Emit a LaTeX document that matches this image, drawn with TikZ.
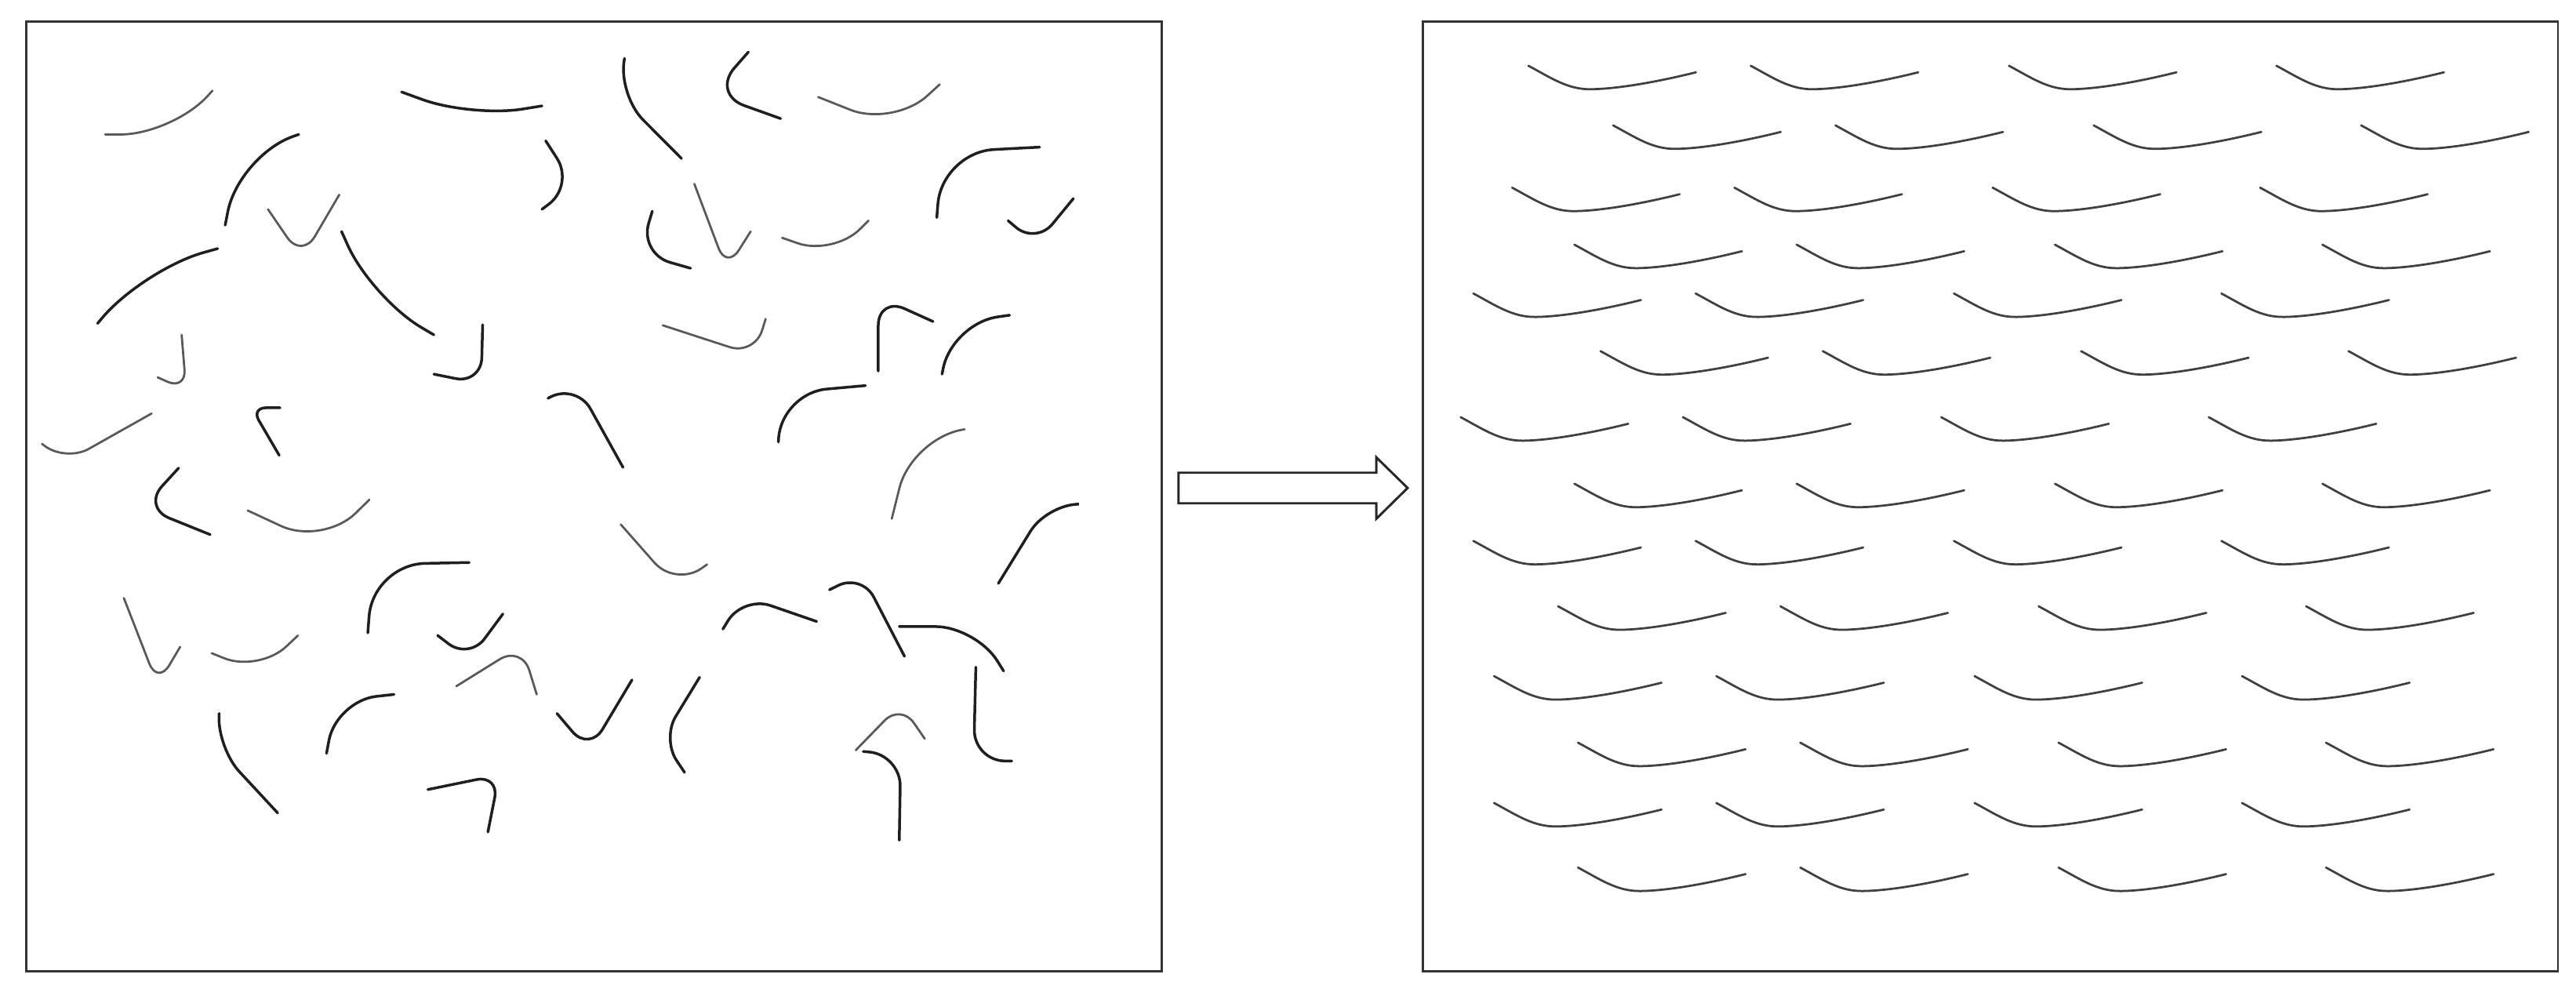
\documentclass[tikz,border=0pt]{standalone}
\usepackage{tikz}
\usetikzlibrary{positioning, arrows.meta}

\tikzset{
  frame/.style={line width=0.8pt, black!80},
  fiber/.style={line width=0.95pt, black!88, line cap=round},
  thinfiber/.style={line width=0.75pt, black!65, line cap=round},
  alignfiber/.style={line width=0.75pt, black!75, line cap=round},
}

\begin{document}
\begin{tikzpicture}[x=0.02cm, y=-0.02cm]
  \useasboundingbox (0,0) rectangle (1568,606);

  % the two frames
  \draw[frame] (16,13) rectangle (707,591);
  \draw[frame] (866,13) rectangle (1557,591);

  % block arrow
  \draw[line width=0.8pt, black!85, fill=white]
      (717.3,287.7) -- (837.7,287.7) -- (837.7,278.3) -- (856.8,297)
      -- (837.7,315.8) -- (837.7,306.3) -- (717.3,306.3) -- cycle;

  % random fibers (left)
  \begin{scope}[x=0.009136cm, y=-0.007724cm]
  \draw[thinfiber, rounded corners=18pt] (140,212) -- (230,212) -- (283,143);
  \draw[fiber, rounded corners=18pt] (535,145) -- (628,185) -- (722,167);
  \draw[fiber, rounded corners=12pt] (832,92) -- (824,150) -- (908,250);
  \draw[fiber, rounded corners=12pt] (997,82) -- (948,148) -- (1040,187);
  \draw[thinfiber, rounded corners=16pt] (1090,153) -- (1190,200) -- (1252,133);
  \draw[fiber, rounded corners=20pt] (398,212) -- (318,245) -- (300,355);
  \draw[thinfiber, rounded corners=9pt] (357,330) -- (402,408) -- (452,307);
  \draw[fiber, rounded corners=11pt] (727,222) -- (765,292) -- (722,330);
  \draw[thinfiber, rounded corners=8pt] (925,290) -- (968,425) -- (1000,365);
  \draw[fiber, rounded corners=11pt] (869,333) -- (852,400) -- (920,423);
  \draw[thinfiber, rounded corners=13pt] (1042,375) -- (1110,403) -- (1157,348);
  \draw[fiber, rounded corners=18pt] (1385,232) -- (1255,240) -- (1248,343);
  \draw[fiber, rounded corners=9pt] (1343,348) -- (1380,385) -- (1430,313);
  \draw[fiber, rounded corners=22pt] (290,392) -- (190,425) -- (130,510);
  \draw[fiber, rounded corners=20pt] (455,365) -- (495,470) -- (578,528);
  \draw[thinfiber, rounded corners=7pt] (242,528) -- (248,615) -- (210,595);
  \draw[fiber, rounded corners=9pt] (643,512) -- (641,605) -- (578,590);
  \draw[thinfiber, rounded corners=9pt] (883,513) -- (1005,560) -- (1020,503);
  \draw[fiber, rounded corners=10pt] (1170,585) -- (1170,468) -- (1243,507);
  \draw[fiber, rounded corners=16pt] (1345,497) -- (1268,510) -- (1255,590);
  \draw[thinfiber, rounded corners=9pt] (202,652) -- (88,728) -- (56,700);
  \draw[fiber, rounded corners=5pt] (373,643) -- (335,643) -- (372,718);
  \draw[fiber, rounded corners=10pt] (730,628) -- (768,605) -- (830,737);
  \draw[fiber, rounded corners=16pt] (1153,608) -- (1040,620) -- (1037,697);
  \draw[thinfiber, rounded corners=18pt] (1285,677) -- (1215,690) -- (1188,818);
  \draw[fiber, rounded corners=10pt] (238,738) -- (190,800) -- (280,843);
  \draw[thinfiber, rounded corners=16pt] (330,805) -- (430,860) -- (492,788);
  \draw[thinfiber, rounded corners=11pt] (827,827) -- (900,925) -- (942,890);
  \draw[fiber, rounded corners=11pt] (1437,795) -- (1395,795) -- (1330,920);
  \draw[fiber, rounded corners=18pt] (625,887) -- (497,890) -- (490,998);
  \draw[thinfiber, rounded corners=8pt] (165,943) -- (210,1080) -- (240,1020);
  \draw[thinfiber, rounded corners=13pt] (282,1030) -- (345,1060) -- (397,1002);
  \draw[fiber, rounded corners=9pt] (583,1002) -- (625,1040) -- (670,968);
  \draw[thinfiber, rounded corners=9pt] (608,1082) -- (695,1018) -- (715,1095);
  \draw[fiber, rounded corners=10pt] (963,992) -- (990,940) -- (1088,980);
  \draw[fiber, rounded corners=9pt] (1105,930) -- (1148,905) -- (1205,1035);
  \draw[fiber, rounded corners=14pt] (1198,988) -- (1300,988) -- (1337,1058);
  \draw[fiber, rounded corners=11pt] (292,1125) -- (290,1180) -- (370,1282);
  \draw[fiber, rounded corners=14pt] (525,1095) -- (448,1105) -- (435,1188);
  \draw[fiber, rounded corners=9pt] (842,1072) -- (785,1185) -- (742,1125);
  \draw[fiber, rounded corners=9pt] (932,1068) -- (882,1165) -- (912,1218);
  \draw[thinfiber, rounded corners=8pt] (1140,1183) -- (1200,1110) -- (1232,1165);
  \draw[fiber, rounded corners=11pt] (1150,1185) -- (1200,1190) -- (1198,1325);
  \draw[fiber, rounded corners=11pt] (1300,1052) -- (1297,1200) -- (1348,1200);
  \draw[fiber, rounded corners=8pt] (570,1245) -- (665,1222) -- (650,1312);
  \end{scope}

  % aligned fibers (right)
  \foreach \x/\y in {930.3/40.0, 981.9/76.3, 920.4/114.2, 958.3/148.9,
                     896.8/178.6, 974.2/213.7, 889.1/253.9, 958.3/294.4,
                     896.8/329.2, 948.4/369.0, 909.4/411.5, 960.5/452.0,
                     909.4/488.7, 960.5/528.0}{
    \foreach \dx in {0, 135.3, 292.5, 455.3}{
      \draw[alignfiber, shift={(\x+\dx,\y)}]
          (0,0) .. controls (14,7.5) and (24,14.5) .. (38,14.3)
          .. controls (55,14.1) and (80,9.5) .. (102,4);
    }
  }

\end{tikzpicture}
\end{document}
